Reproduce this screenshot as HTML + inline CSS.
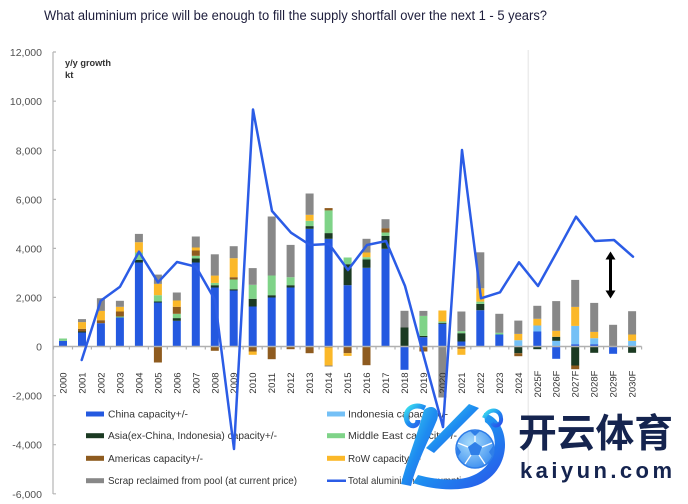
<!DOCTYPE html>
<html><head><meta charset="utf-8"><style>
html,body{margin:0;padding:0;background:#fff;}
svg{display:block;}
.c{fill:#2459E0}.i{fill:#74C0F6}.a{fill:#1B3A22}.m{fill:#7FD388}.r{fill:#8E5B1F}.o{fill:#FBB829}.s{fill:#888888}
.yl{font-family:"Liberation Sans",sans-serif;font-size:10.5px;fill:#505050;text-anchor:end}
.xl{font-family:"Liberation Sans",sans-serif;font-size:9.5px;fill:#333;text-anchor:middle}
.lg{font-family:"Liberation Sans",sans-serif;font-size:10.5px;fill:#333}
</style></head><body>
<svg width="688" height="504" viewBox="0 0 688 504" xmlns="http://www.w3.org/2000/svg">
<defs>
<linearGradient id="lgd" x1="0" y1="0" x2="1" y2="1">
<stop offset="0" stop-color="#3FE6EE"/><stop offset="0.5" stop-color="#1E8CF0"/><stop offset="1" stop-color="#2A4FE8"/>
</linearGradient>
<radialGradient id="ball" cx="0.4" cy="0.35" r="0.7">
<stop offset="0" stop-color="#a8dcfb"/><stop offset="1" stop-color="#3d8ff0"/>
</radialGradient>
</defs>
<rect width="688" height="504" fill="#fff"/>
<text x="44" y="20" font-family="Liberation Sans, sans-serif" font-size="13.5" fill="#1e1e3c" textLength="503" lengthAdjust="spacingAndGlyphs">What aluminium price will be enough to fill the supply shortfall over the next 1 - 5 years?</text>

<line x1="528.3" y1="50" x2="528.3" y2="470" stroke="#ececec" stroke-width="1.5"/>

<text x="65" y="66" font-family="Liberation Sans, sans-serif" font-size="9.5" font-weight="bold" fill="#333" textLength="46" lengthAdjust="spacingAndGlyphs">y/y growth</text>
<text x="65" y="78" font-family="Liberation Sans, sans-serif" font-size="9.5" font-weight="bold" fill="#333">kt</text>

<g>
<text class="yl" x="42" y="56">12,000</text>
<text class="yl" x="42" y="105.2">10,000</text>
<text class="yl" x="42" y="154.3">8,000</text>
<text class="yl" x="42" y="203.4">6,000</text>
<text class="yl" x="42" y="252.4">4,000</text>
<text class="yl" x="42" y="301.4">2,000</text>
<text class="yl" x="42" y="350.5">0</text>
<text class="yl" x="42" y="399.6">-2,000</text>
<text class="yl" x="42" y="448.7">-4,000</text>
<text class="yl" x="42" y="497.8">-6,000</text>
</g>
<line x1="53" y1="52" x2="53" y2="494" stroke="#b5b5b5" stroke-width="1.2"/>
<path d="M53 52h3M53 101.2h3M53 150.3h3M53 199.4h3M53 248.4h3M53 297.4h3M53 395.6h3M53 444.7h3M53 493.8h3" stroke="#b5b5b5" stroke-width="1.2"/>

<!-- bars -->
<g>
<rect class="c" x="59" y="340.8" width="8" height="5.7"/><rect class="m" x="59" y="338.5" width="8" height="2.3"/>
<rect class="c" x="78" y="332.5" width="8" height="14"/><rect class="a" x="78" y="331.5" width="8" height="1"/><rect class="r" x="78" y="328.8" width="8" height="2.7"/><rect class="o" x="78" y="322.1" width="8" height="6.7"/><rect class="s" x="78" y="319.1" width="8" height="3"/>
<rect class="c" x="96.9" y="323.2" width="8" height="23.3"/><rect class="r" x="96.9" y="320.2" width="8" height="3"/><rect class="o" x="96.9" y="310.9" width="8" height="9.3"/><rect class="s" x="96.9" y="298.2" width="8" height="12.7"/>
<rect class="c" x="115.9" y="317.5" width="8" height="29"/><rect class="m" x="115.9" y="316.5" width="8" height="1"/><rect class="r" x="115.9" y="311.5" width="8" height="5"/><rect class="o" x="115.9" y="306.8" width="8" height="4.7"/><rect class="s" x="115.9" y="300.8" width="8" height="6"/>
<rect class="c" x="134.9" y="262.5" width="8" height="84"/><rect class="a" x="134.9" y="259.8" width="8" height="2.7"/><rect class="m" x="134.9" y="252.5" width="8" height="7.3"/><rect class="o" x="134.9" y="242.2" width="8" height="10.3"/><rect class="s" x="134.9" y="233.9" width="8" height="8.3"/>
<rect class="c" x="153.9" y="302.5" width="8" height="44"/><rect class="a" x="153.9" y="301.5" width="8" height="1"/><rect class="m" x="153.9" y="295.2" width="8" height="6.3"/><rect class="o" x="153.9" y="283.9" width="8" height="11.3"/><rect class="s" x="153.9" y="274.6" width="8" height="9.3"/><rect class="r" x="153.9" y="346.5" width="8" height="16"/>
<rect class="c" x="172.8" y="320.8" width="8" height="25.7"/><rect class="a" x="172.8" y="318.1" width="8" height="2.7"/><rect class="m" x="172.8" y="313.8" width="8" height="4.3"/><rect class="r" x="172.8" y="306.8" width="8" height="7"/><rect class="o" x="172.8" y="300.5" width="8" height="6.3"/><rect class="s" x="172.8" y="292.5" width="8" height="8"/>
<rect class="c" x="191.8" y="262.5" width="8" height="84"/><rect class="a" x="191.8" y="258.5" width="8" height="4"/><rect class="m" x="191.8" y="255.8" width="8" height="2.7"/><rect class="r" x="191.8" y="250.5" width="8" height="5.3"/><rect class="o" x="191.8" y="247.5" width="8" height="3"/><rect class="s" x="191.8" y="236.5" width="8" height="11"/>
<rect class="c" x="210.8" y="287.5" width="8" height="59"/><rect class="a" x="210.8" y="285.2" width="8" height="2.3"/><rect class="m" x="210.8" y="282.9" width="8" height="2.3"/><rect class="o" x="210.8" y="275.6" width="8" height="7.3"/><rect class="s" x="210.8" y="254.3" width="8" height="21.3"/><rect class="r" x="210.8" y="346.5" width="8" height="4.3"/>
<rect class="c" x="229.7" y="290.5" width="8" height="56"/><rect class="a" x="229.7" y="289.2" width="8" height="1.3"/><rect class="m" x="229.7" y="279.5" width="8" height="9.7"/><rect class="r" x="229.7" y="277.2" width="8" height="2.3"/><rect class="o" x="229.7" y="258.2" width="8" height="19"/><rect class="s" x="229.7" y="246.2" width="8" height="12"/>
<rect class="c" x="248.7" y="306.5" width="8" height="40"/><rect class="a" x="248.7" y="298.8" width="8" height="7.7"/><rect class="m" x="248.7" y="284.8" width="8" height="14"/><rect class="s" x="248.7" y="268.1" width="8" height="16.7"/><rect class="r" x="248.7" y="346.5" width="8" height="5"/><rect class="o" x="248.7" y="351.5" width="8" height="3.3"/>
<rect class="c" x="267.7" y="297.5" width="8" height="49"/><rect class="a" x="267.7" y="295.2" width="8" height="2.3"/><rect class="m" x="267.7" y="275.5" width="8" height="19.7"/><rect class="s" x="267.7" y="216.5" width="8" height="59"/><rect class="r" x="267.7" y="346.5" width="8" height="12.7"/>
<rect class="c" x="286.6" y="287.5" width="8" height="59"/><rect class="a" x="286.6" y="285.2" width="8" height="2.3"/><rect class="m" x="286.6" y="277.2" width="8" height="8"/><rect class="s" x="286.6" y="244.9" width="8" height="32.3"/><rect class="r" x="286.6" y="346.5" width="8" height="2.7"/>
<rect class="c" x="305.6" y="228.8" width="8" height="117.7"/><rect class="a" x="305.6" y="226.1" width="8" height="2.7"/><rect class="m" x="305.6" y="220.8" width="8" height="5.3"/><rect class="o" x="305.6" y="214.8" width="8" height="6"/><rect class="s" x="305.6" y="193.5" width="8" height="21.3"/><rect class="r" x="305.6" y="346.5" width="8" height="6.7"/>
<rect class="c" x="324.6" y="238.8" width="8" height="107.7"/><rect class="a" x="324.6" y="233.1" width="8" height="5.7"/><rect class="m" x="324.6" y="210.4" width="8" height="22.7"/><rect class="r" x="324.6" y="208.1" width="8" height="2.3"/><rect class="r" x="324.6" y="346.5" width="8" height="1"/><rect class="o" x="324.6" y="347.5" width="8" height="18"/><rect class="s" x="324.6" y="365.5" width="8" height="1"/>
<rect class="c" x="343.6" y="285.2" width="8" height="61.3"/><rect class="a" x="343.6" y="264.2" width="8" height="21"/><rect class="m" x="343.6" y="257.5" width="8" height="6.7"/><rect class="r" x="343.6" y="346.5" width="8" height="6.7"/><rect class="o" x="343.6" y="353.2" width="8" height="2.7"/>
<rect class="c" x="362.5" y="267.8" width="8" height="78.7"/><rect class="a" x="362.5" y="259.5" width="8" height="8.3"/><rect class="m" x="362.5" y="257.2" width="8" height="2.3"/><rect class="o" x="362.5" y="252.5" width="8" height="4.7"/><rect class="s" x="362.5" y="238.8" width="8" height="13.7"/><rect class="r" x="362.5" y="346.5" width="8" height="18.7"/>
<rect class="c" x="381.5" y="248.8" width="8" height="97.7"/><rect class="a" x="381.5" y="235.8" width="8" height="13"/><rect class="m" x="381.5" y="232.5" width="8" height="3.3"/><rect class="r" x="381.5" y="228.2" width="8" height="4.3"/><rect class="s" x="381.5" y="219.2" width="8" height="9"/>
<rect class="a" x="400.5" y="327.5" width="8" height="19"/><rect class="s" x="400.5" y="310.8" width="8" height="16.7"/><rect class="c" x="400.5" y="346.5" width="8" height="23.3"/>
<rect class="c" x="419.4" y="337.2" width="8" height="9.3"/><rect class="a" x="419.4" y="335.9" width="8" height="1.3"/><rect class="m" x="419.4" y="315.9" width="8" height="20"/><rect class="s" x="419.4" y="310.9" width="8" height="5"/><rect class="r" x="419.4" y="346.5" width="8" height="5"/>
<rect class="c" x="438.4" y="323.8" width="8" height="22.7"/><rect class="a" x="438.4" y="322.8" width="8" height="1"/><rect class="m" x="438.4" y="321.5" width="8" height="1.3"/><rect class="o" x="438.4" y="310.5" width="8" height="11"/><rect class="s" x="438.4" y="346.5" width="8" height="51"/>
<rect class="c" x="457.4" y="341.5" width="8" height="5"/><rect class="a" x="457.4" y="333.2" width="8" height="8.3"/><rect class="m" x="457.4" y="331.2" width="8" height="2"/><rect class="s" x="457.4" y="311.5" width="8" height="19.7"/><rect class="r" x="457.4" y="346.5" width="8" height="2.3"/><rect class="o" x="457.4" y="348.8" width="8" height="6"/>
<rect class="c" x="476.3" y="310.2" width="8" height="36.3"/><rect class="a" x="476.3" y="303.9" width="8" height="6.3"/><rect class="m" x="476.3" y="301.6" width="8" height="2.3"/><rect class="o" x="476.3" y="288.3" width="8" height="13.3"/><rect class="s" x="476.3" y="252.3" width="8" height="36"/>
<rect class="c" x="495.3" y="334.5" width="8" height="12"/><rect class="m" x="495.3" y="332.8" width="8" height="1.7"/><rect class="s" x="495.3" y="313.8" width="8" height="19"/>
<rect class="i" x="514.3" y="340.2" width="8" height="6.3"/><rect class="o" x="514.3" y="333.9" width="8" height="6.3"/><rect class="s" x="514.3" y="320.6" width="8" height="13.3"/><rect class="a" x="514.3" y="346.5" width="8" height="6.7"/><rect class="r" x="514.3" y="353.2" width="8" height="3"/>
<rect class="c" x="533.3" y="331.5" width="8" height="15"/><rect class="i" x="533.3" y="325.5" width="8" height="6"/><rect class="o" x="533.3" y="318.8" width="8" height="6.7"/><rect class="s" x="533.3" y="305.8" width="8" height="13"/><rect class="a" x="533.3" y="346.5" width="8" height="2.7"/>
<rect class="i" x="552.2" y="340.8" width="8" height="5.7"/><rect class="a" x="552.2" y="336.8" width="8" height="4"/><rect class="o" x="552.2" y="330.8" width="8" height="6"/><rect class="s" x="552.2" y="301.1" width="8" height="29.7"/><rect class="c" x="552.2" y="346.5" width="8" height="12.3"/>
<rect class="c" x="571.2" y="344.2" width="8" height="2.3"/><rect class="i" x="571.2" y="325.9" width="8" height="18.3"/><rect class="o" x="571.2" y="306.9" width="8" height="19"/><rect class="s" x="571.2" y="279.9" width="8" height="27"/><rect class="a" x="571.2" y="346.5" width="8" height="19"/><rect class="r" x="571.2" y="365.5" width="8" height="3.7"/>
<rect class="c" x="590.2" y="344.2" width="8" height="2.3"/><rect class="i" x="590.2" y="338.2" width="8" height="6"/><rect class="o" x="590.2" y="331.9" width="8" height="6.3"/><rect class="s" x="590.2" y="302.9" width="8" height="29"/><rect class="a" x="590.2" y="346.5" width="8" height="6.3"/>
<rect class="s" x="609.1" y="324.8" width="8" height="21.7"/><rect class="c" x="609.1" y="346.5" width="8" height="7.3"/>
<rect class="i" x="628.1" y="340.8" width="8" height="5.7"/><rect class="o" x="628.1" y="334.5" width="8" height="6.3"/><rect class="s" x="628.1" y="311.2" width="8" height="23.3"/><rect class="a" x="628.1" y="346.5" width="8" height="6.3"/>
</g>

<!-- x axis -->
<line x1="53" y1="346.5" x2="641.6" y2="346.5" stroke="#b0b0b0" stroke-width="1.4"/>
<path d="M53.5 346.5v3M72.5 346.5v3M91.4 346.5v3M110.4 346.5v3M129.4 346.5v3M148.4 346.5v3M167.3 346.5v3M186.3 346.5v3M205.3 346.5v3M224.2 346.5v3M243.2 346.5v3M262.2 346.5v3M281.1 346.5v3M300.1 346.5v3M319.1 346.5v3M338.1 346.5v3M357 346.5v3M376 346.5v3M395 346.5v3M413.9 346.5v3M432.9 346.5v3M451.9 346.5v3M470.8 346.5v3M489.8 346.5v3M508.8 346.5v3M527.8 346.5v3M546.7 346.5v3M565.7 346.5v3M584.7 346.5v3M603.6 346.5v3M622.6 346.5v3M641.6 346.5v3" stroke="#b0b0b0" stroke-width="1.2"/>

<g>
<text class="xl" transform="translate(66.5 383) rotate(-90)">2000</text>
<text class="xl" transform="translate(85.5 383) rotate(-90)">2001</text>
<text class="xl" transform="translate(104.4 383) rotate(-90)">2002</text>
<text class="xl" transform="translate(123.4 383) rotate(-90)">2003</text>
<text class="xl" transform="translate(142.4 383) rotate(-90)">2004</text>
<text class="xl" transform="translate(161.4 383) rotate(-90)">2005</text>
<text class="xl" transform="translate(180.3 383) rotate(-90)">2006</text>
<text class="xl" transform="translate(199.3 383) rotate(-90)">2007</text>
<text class="xl" transform="translate(218.3 383) rotate(-90)">2008</text>
<text class="xl" transform="translate(237.2 383) rotate(-90)">2009</text>
<text class="xl" transform="translate(256.2 383) rotate(-90)">2010</text>
<text class="xl" transform="translate(275.2 383) rotate(-90)">2011</text>
<text class="xl" transform="translate(294.1 383) rotate(-90)">2012</text>
<text class="xl" transform="translate(313.1 383) rotate(-90)">2013</text>
<text class="xl" transform="translate(332.1 383) rotate(-90)">2014</text>
<text class="xl" transform="translate(351.1 383) rotate(-90)">2015</text>
<text class="xl" transform="translate(370 383) rotate(-90)">2016</text>
<text class="xl" transform="translate(389 383) rotate(-90)">2017</text>
<text class="xl" transform="translate(408 383) rotate(-90)">2018</text>
<text class="xl" transform="translate(426.9 383) rotate(-90)">2019</text>
<text class="xl" transform="translate(445.9 383) rotate(-90)">2020</text>
<text class="xl" transform="translate(464.9 383) rotate(-90)">2021</text>
<text class="xl" transform="translate(483.8 383) rotate(-90)">2022</text>
<text class="xl" transform="translate(502.8 383) rotate(-90)">2023</text>
<text class="xl" transform="translate(521.8 383) rotate(-90)">2024</text>
<text class="xl" transform="translate(540.8 384) rotate(-90)">2025F</text>
<text class="xl" transform="translate(559.7 384) rotate(-90)">2026F</text>
<text class="xl" transform="translate(578.7 384) rotate(-90)">2027F</text>
<text class="xl" transform="translate(597.7 384) rotate(-90)">2028F</text>
<text class="xl" transform="translate(616.6 384) rotate(-90)">2029F</text>
<text class="xl" transform="translate(635.6 384) rotate(-90)">2030F</text>
</g>

<!-- legend -->
<g>
<rect class="c" x="86" y="411.5" width="18" height="5"/>
<text class="lg" x="108" y="417.5" textLength="80" lengthAdjust="spacingAndGlyphs">China capacity+/-</text>
<rect class="a" x="86" y="433.2" width="18" height="5"/>
<text class="lg" x="108" y="439.2" textLength="169" lengthAdjust="spacingAndGlyphs">Asia(ex-China, Indonesia) capacity+/-</text>
<rect class="r" x="86" y="455.8" width="18" height="5"/>
<text class="lg" x="108" y="461.8" textLength="95" lengthAdjust="spacingAndGlyphs">Americas capacity+/-</text>
<rect class="s" x="86" y="478.2" width="18" height="5"/>
<text class="lg" x="108" y="484.2" textLength="189" lengthAdjust="spacingAndGlyphs">Scrap reclaimed from pool (at current price)</text>

<rect class="i" x="327" y="411.5" width="18" height="5"/>
<text class="lg" x="348" y="417.5" textLength="100" lengthAdjust="spacingAndGlyphs">Indonesia capacity+/-</text>
<rect class="m" x="327" y="433.2" width="18" height="5"/>
<text class="lg" x="348" y="439.2" textLength="109" lengthAdjust="spacingAndGlyphs">Middle East capacity+/-</text>
<rect class="o" x="327" y="455.8" width="18" height="5"/>
<text class="lg" x="348" y="461.8" textLength="73" lengthAdjust="spacingAndGlyphs">RoW capacity+/-</text>
<line x1="327" y1="480.7" x2="346" y2="480.7" stroke="#2B5CE6" stroke-width="2.5"/>
<text class="lg" x="348" y="484.2" textLength="124" lengthAdjust="spacingAndGlyphs">Total aluminium consumption</text>
</g>

<!-- consumption line -->
<polyline fill="none" stroke="#2B5CE6" stroke-width="2.5" stroke-linejoin="round" stroke-linecap="round"
points="81.7,360 100.7,300.7 120,286.7 139,251.7 158,282.3 177,262 196,266.7 215,300 234,449 253,109.5 272,211 291,232.7 310,245 329,244 348,270 367,245 386,241 405,286 424,357 443,427 462,150 481,298.3 500,292.3 519,262.3 538,286 557,251.7 576,216.7 595,241 614,240 633,256.7"/>

<!-- double arrow -->
<line x1="610.5" y1="259" x2="610.5" y2="291" stroke="#000" stroke-width="3"/>
<polygon points="610.5,251.5 605.5,259.5 615.5,259.5" fill="#000"/>
<polygon points="610.5,298.5 605.5,290.5 615.5,290.5" fill="#000"/>

<!-- watermark -->
<g>
<path d="M424 410 C432 403,441 409,437 420 C428 442,417 462,411 486 L401 484 C407 460,417 436,424 410 Z" fill="url(#lgd)"/>
<path d="M425 408 C414 402,403 410,407 421 C410 428,418 427,418 420" fill="none" stroke="url(#lgd)" stroke-width="5"/>
<path d="M469 404 L479 408 L434 453 L426 448 Z" fill="url(#lgd)"/>
<path d="M484 413 C512 420,514 470,478 485 C460 492,432 490,413 483 L418 475 C440 481,462 481,474 475 C500 463,499 431,485 422 Z" fill="url(#lgd)"/>
<path d="M484 418 C488 408,500 408,501 418 C502 425,495 428,492 423" fill="none" stroke="url(#lgd)" stroke-width="4"/>
<circle cx="475" cy="449" r="19" fill="url(#ball)" stroke="#2e7de8" stroke-width="1.5"/>
<polygon points="475,442 482,447 479,455 471,455 468,447" fill="#2f7fe8"/>
<path d="M475 442 L475 432 M482 447 L492 443 M479 455 L485 464 M471 455 L465 464 M468 447 L458 443" stroke="#ffffff" stroke-width="1.3"/>
<polygon points="470,431 480,431 475,436" fill="#2f7fe8"/>
<polygon points="489,452 493,446 493,458" fill="#2f7fe8"/>
<polygon points="461,452 457,446 457,458" fill="#2f7fe8"/>
<text x="518" y="447" font-family="Liberation Sans, 'Noto Sans CJK SC', sans-serif" font-size="39" font-weight="bold" fill="#15244f" textLength="155" lengthAdjust="spacingAndGlyphs">开云体育</text>
<text x="520" y="478" font-family="Liberation Sans, sans-serif" font-size="22" font-weight="bold" fill="#15244f" textLength="152" lengthAdjust="spacing">kaiyun.com</text>
</g>
</svg>
</body></html>
